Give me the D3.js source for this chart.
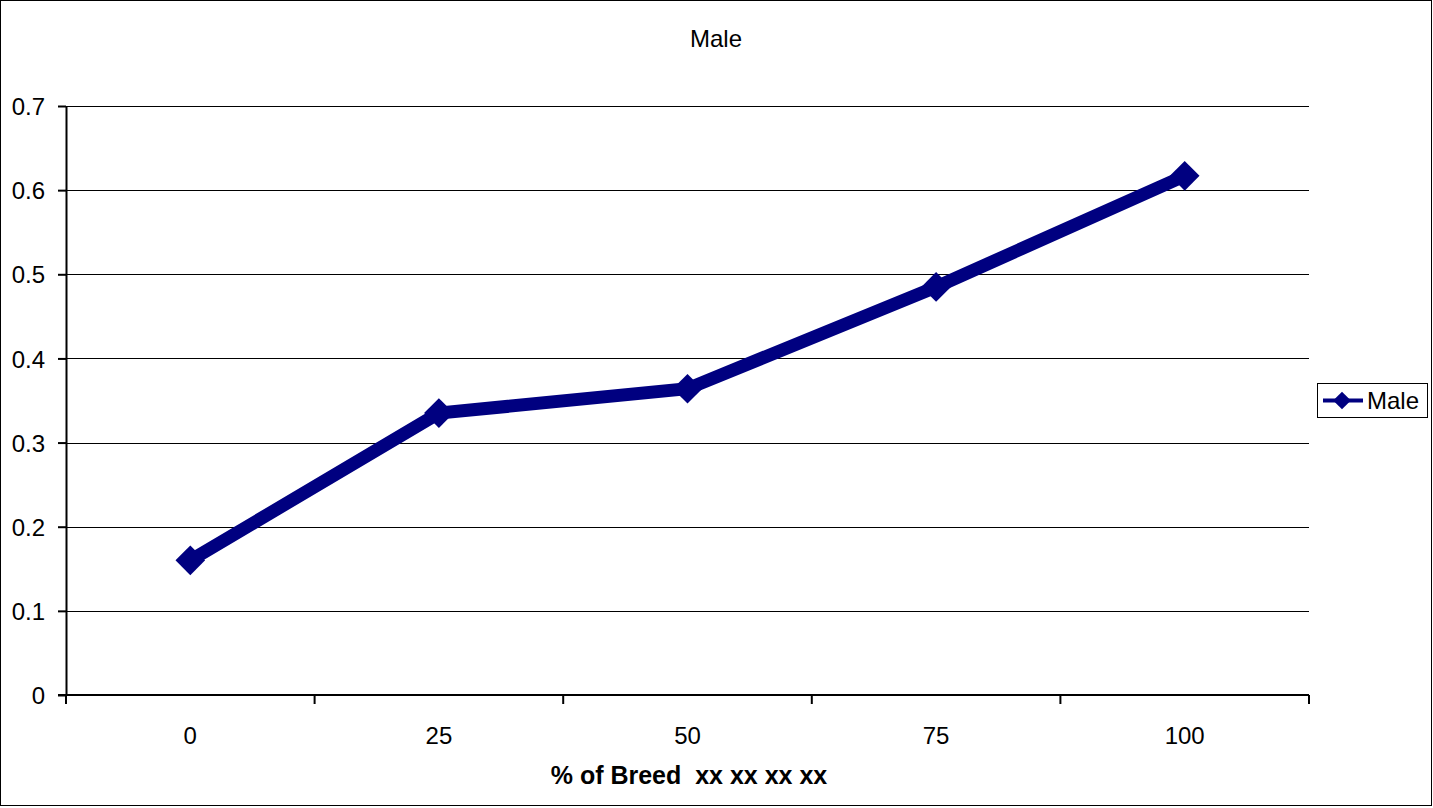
<!DOCTYPE html>
<html>
<head>
<meta charset="utf-8">
<script src="https://cdn.jsdelivr.net/npm/d3@7"></script>
<style>
  html, body { margin: 0; padding: 0; background: #fff; }
  svg { display: block; font-family: "Liberation Sans", Arial, sans-serif; }
  .pre { white-space: pre; }
</style>
</head>
<body>
<svg id="chart" width="1433" height="808"></svg>
<script>
// Breed percentage categories and the male series
const categories = ["0", "25", "50", "75", "100"];
const maleValues = [0.16, 0.335, 0.364, 0.485, 0.617];
const yTicks = [0, 0.1, 0.2, 0.3, 0.4, 0.5, 0.6, 0.7];
const seriesName = "Male";
const chartTitle = "Male";
const xTitle = "% of Breed  xx xx xx xx";

const W = 1433, H = 808;
const plot = { left: 66, right: 1309, top: 106, bottom: 695 };
const navy = "#000080";
const FONT = '"Liberation Sans", Arial, sans-serif';
const FS = 24;

const svg = d3.select("#chart");

// outer chart border
svg.append("rect")
  .attr("x", 0.5).attr("y", 0.5)
  .attr("width", W - 2).attr("height", H - 3)
  .attr("fill", "#fff").attr("stroke", "#000").attr("stroke-width", 1);

const x = d3.scaleBand().domain(categories).range([plot.left, plot.right]);
const y = d3.scaleLinear().domain([0, 0.7]).range([plot.bottom, plot.top]);

// horizontal gridlines
svg.append("g").selectAll("line")
  .data(yTicks.filter(t => t > 0))
  .join("line")
  .attr("x1", plot.left).attr("x2", plot.right)
  .attr("y1", d => Math.round(y(d)) + 0.5).attr("y2", d => Math.round(y(d)) + 0.5)
  .attr("stroke", "#000").attr("stroke-width", 1);

// y axis
const yAxis = svg.append("g")
  .attr("transform", `translate(${plot.left},0)`)
  .call(d3.axisLeft(y).tickValues(yTicks)
    .tickFormat(d => d === 0 ? "0" : d3.format(".1f")(d))
    .tickSize(8).tickSizeOuter(0).tickPadding(13));
yAxis.attr("font-size", FS).attr("font-family", FONT);
yAxis.select(".domain").attr("stroke", "#000").attr("stroke-width", 2);
yAxis.selectAll(".tick line").attr("stroke", "#000").attr("stroke-width", 2);
yAxis.selectAll("text").attr("fill", "#000").attr("dy", "0.36em");

// x axis with ticks on category boundaries
const boundaries = categories.map(c => x(c)).concat([plot.right]);
const xAxisG = svg.append("g");
xAxisG.append("line")
  .attr("x1", plot.left - 8).attr("x2", plot.right)
  .attr("y1", plot.bottom).attr("y2", plot.bottom)
  .attr("stroke", "#000").attr("stroke-width", 2);
xAxisG.selectAll("line.tk").data(boundaries).join("line")
  .attr("class", "tk")
  .attr("x1", d => d).attr("x2", d => d)
  .attr("y1", plot.bottom).attr("y2", plot.bottom + 9)
  .attr("stroke", "#000").attr("stroke-width", 2);
xAxisG.selectAll("text").data(categories).join("text")
  .attr("x", d => x(d) + x.bandwidth() / 2)
  .attr("y", 744)
  .attr("text-anchor", "middle")
  .attr("font-size", FS)
  .text(d => d);

// titles
svg.append("text")
  .attr("x", 716).attr("y", 47)
  .attr("text-anchor", "middle").attr("font-size", FS)
  .text(chartTitle);
svg.append("text")
  .attr("class", "pre")
  .attr("x", 689).attr("y", 784)
  .attr("text-anchor", "middle").attr("font-size", 25).attr("font-weight", "bold")
  .text(xTitle);

// series line
const cx = d => x(d) + x.bandwidth() / 2;
const points = categories.map((c, i) => [cx(c), y(maleValues[i])]);
svg.append("path")
  .datum(points)
  .attr("d", d3.line())
  .attr("fill", "none")
  .attr("stroke", navy)
  .attr("stroke-width", 13)
  .attr("stroke-linejoin", "miter");

// diamond markers
const diamond = d3.symbol().type(d3.symbolDiamond2).size(560);
svg.append("g").selectAll("path")
  .data(points)
  .join("path")
  .attr("transform", d => `translate(${d[0]},${d[1]})`)
  .attr("d", diamond)
  .attr("fill", navy);

// legend
const lg = svg.append("g");
lg.append("rect")
  .attr("x", 1317.5).attr("y", 383.5).attr("width", 110).attr("height", 34)
  .attr("fill", "#fff").attr("stroke", "#000").attr("stroke-width", 1);
lg.append("line")
  .attr("x1", 1323).attr("x2", 1363).attr("y1", 400.5).attr("y2", 400.5)
  .attr("stroke", navy).attr("stroke-width", 4);
lg.append("path")
  .attr("transform", "translate(1342,400.5)")
  .attr("d", d3.symbol().type(d3.symbolDiamond2).size(200))
  .attr("fill", navy);
lg.append("text")
  .attr("x", 1367).attr("y", 409)
  .attr("font-size", FS)
  .text(seriesName);
</script>
</body>
</html>
